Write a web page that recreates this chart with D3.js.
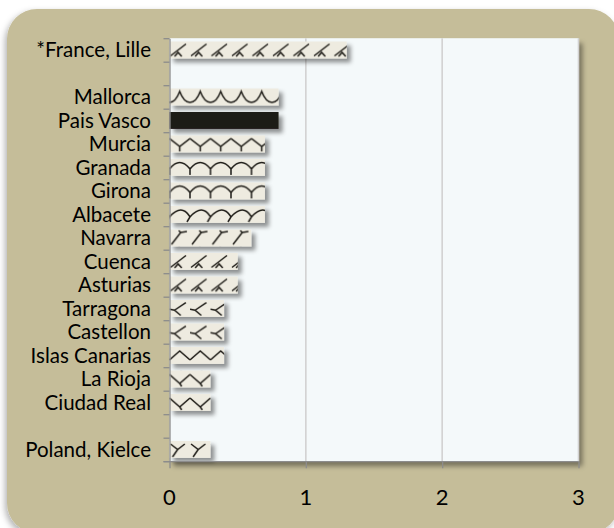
<!DOCTYPE html>
<html><head><meta charset="utf-8">
<script src="https://cdn.jsdelivr.net/npm/d3@7"></script>
<style>html,body{margin:0;padding:0;background:#fff;} svg{display:block}</style>
</head><body><svg id="c" width="614" height="528"></svg>
<script>
// ---- data ----
const categories = ["*France, Lille","","Mallorca","Pais Vasco","Murcia","Granada","Girona","Albacete","Navarra","Cuenca","Asturias","Tarragona","Castellon","Islas Canarias","La Rioja","Ciudad Real","","Poland, Kielce"];
const values = [1.3,null,0.8,0.8,0.7,0.7,0.7,0.7,0.6,0.5,0.5,0.4,0.4,0.4,0.3,0.3,null,0.3];
const xTicks = [0,1,2,3];

// ---- style (pattern kind per row) ----
const patternKinds = ["slash","","wave","solid","zigzagY","scallop","scallop","slantY","slashY","slash","slash","chevron","chevron","zigzag","vzig","vzig","","yslash"];

const svg = d3.select("#c");
const defs = svg.append("defs");
const f1 = defs.append("filter").attr("id","sh").attr("x","-10%").attr("y","-40%").attr("width","140%").attr("height","200%");
f1.append("feDropShadow").attr("dx",4).attr("dy",4).attr("stdDeviation",2.2).attr("flood-color","#000").attr("flood-opacity",0.42);
const f2 = defs.append("filter").attr("id","sh2").attr("x","-5%").attr("y","-5%").attr("width","115%").attr("height","115%");
f2.append("feDropShadow").attr("dx",4).attr("dy",5).attr("stdDeviation",2.5).attr("flood-color","#000").attr("flood-opacity",0.4);
const f3 = defs.append("filter").attr("id","sh3").attr("x","-5%").attr("y","-5%").attr("width","115%").attr("height","115%");
f3.append("feDropShadow").attr("dx",-2).attr("dy",3).attr("stdDeviation",3).attr("flood-color","#000").attr("flood-opacity",0.3);

// frame
svg.append("rect").attr("x",7).attr("y",9).attr("width",612).attr("height",524).attr("rx",30)
  .attr("fill","#c5bd99").attr("filter","url(#sh3)");

const M = {l:169.5, r:578.5, t:38.2, b:461.2};
const x = d3.scaleLinear().domain([0,3]).range([M.l,M.r]);
const y = d3.scaleBand().domain(d3.range(categories.length)).range([M.t,M.b]).paddingInner(0.28).paddingOuter(0.14);
const yb = d3.scaleLinear().domain([0,categories.length]).range([M.t,M.b]);

// plot area
svg.append("rect").attr("x",M.l).attr("y",M.t).attr("width",M.r-M.l).attr("height",M.b-M.t)
  .attr("fill","#f4f9fa").attr("filter","url(#sh2)");

// gridlines
svg.append("g").selectAll("line").data(xTicks.filter(t=>t>0)).join("line")
  .attr("x1",d=>x(d)).attr("x2",d=>x(d)).attr("y1",M.t).attr("y2",M.b)
  .attr("stroke","#d2d2d2").attr("stroke-width",1.6);

// patterns
const bw = y.bandwidth();
const PW = 20.5;
function pathFor(kind, w, h){
  switch(kind){
    case "slash": return `M1,${h-2.5} L${w-4},2.5 M${w*0.25},${h-2} L${w*0.42},${h-6} L${w*0.6},${h-2}`;
    case "wave": return `M0,${h-3} Q${w*0.3},${h-3} ${w*0.5},3 Q${w*0.7},${h-3} ${w},${h-3}`;
    case "zigzagY": return `M0,3 L${w/2},${h-6} L${w},3 M${w/2},${h-6} L${w/2},${h-1}`;
    case "scallop": return `M0,${h-7} Q${w/2},-3 ${w},${h-7} M0,${h-7} L0,${h-1} M${w},${h-7} L${w},${h-1}`;
    case "slantY": return `M0,${h-6} Q${w*0.6},-3 ${w},${h-6} M0,${h-6} L-3,${h-1} M${w},${h-6} L${w-3},${h-1}`;
    case "slashY": return `M2,${h-2} L${w*0.55},3 M${w*0.55},3 L${w*0.85},2 M${w*0.55},3 L${w*0.45},1`;
    case "chevron": return `M${w*0.8},2.5 L${w*0.25},${h*0.6} L${w*0.55},${h-1.5} M${w*0.25},${h*0.6} L0,${h*0.55}`;
    case "zigzag": return `M0,${h-4} L${w/2},4 L${w},${h-4}`;
    case "vzig": return `M0,4 L${w/2},${h-4} L${w},4 M${w/2},${h-4} L${w/2+2},${h-1}`;
    case "yslash": return `M1,3 L${w*0.4},${h*0.5} L${w*0.75},3 M${w*0.4},${h*0.5} L${w*0.15},${h-1}`;
  }
  return "";
}
categories.forEach((c,i)=>{
  const k = patternKinds[i];
  if(!k || k==="solid") return;
  const p = defs.append("pattern").attr("id","p"+i).attr("patternUnits","userSpaceOnUse")
    .attr("x",x(0)).attr("y",y(i)).attr("width",PW).attr("height",bw);
  p.append("rect").attr("width",PW).attr("height",bw).attr("fill","#eeebe0");
  p.append("path").attr("d",pathFor(k,PW,bw)).attr("fill","none").attr("stroke","#1e1c17").attr("stroke-width",1.5);
});

// bars
const rows = categories.map((c,i)=>({i, c, v: values[i]})).filter(d=>d.v!==null);
svg.append("g").selectAll("rect").data(rows).join("rect")
  .attr("x",x(0)).attr("y",d=>y(d.i)).attr("width",d=>x(d.v)-x(0)).attr("height",bw)
  .attr("fill",d=>patternKinds[d.i]==="solid"?"#1e1b14":`url(#p${d.i})`)
  .attr("filter","url(#sh)");

// y axis (boundary ticks)
const gy = svg.append("g").attr("transform",`translate(${M.l},0)`)
  .call(d3.axisLeft(yb).tickValues(d3.range(categories.length+1)).tickFormat("").tickSizeInner(6).tickSizeOuter(0));
gy.selectAll("path,line").attr("stroke","#8c8c8c").attr("stroke-width",1.3);

// x axis
const gx = svg.append("g").attr("transform",`translate(0,${M.b})`)
  .call(d3.axisBottom(x).tickValues(xTicks).tickFormat("").tickSizeInner(7).tickSizeOuter(0));
gx.selectAll("path,line").attr("stroke","#8c8c8c").attr("stroke-width",1.3);
gx.select("path").attr("d",`M${M.l-6},0.5H${M.r}`);

// labels
svg.append("g").selectAll("text").data(categories.map((c,i)=>({c,i})).filter(d=>d.c)).join("text")
  .attr("x",151).attr("y",d=>y(d.i)+bw/2).attr("dy","0.36em").attr("text-anchor","end")
  .attr("font-family","Lato, 'Open Sans', sans-serif").attr("font-size",20.5).attr("fill","#000")
  .text(d=>d.c);

svg.append("g").selectAll("text").data(xTicks).join("text")
  .attr("x",d=>x(d)).attr("y",497).attr("dy","0.35em").attr("text-anchor","middle")
  .attr("font-family","Lato, 'Open Sans', sans-serif").attr("font-size",22).attr("fill","#000")
  .text(d=>d);
</script></body></html>
